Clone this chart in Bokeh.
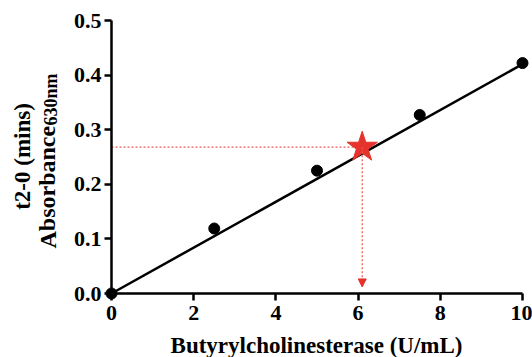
from bokeh.plotting import figure
from bokeh.models import Range1d, FixedTicker, NumeralTickFormatter, Label, Arrow, NormalHead
from bokeh.embed import file_html
from bokeh.resources import INLINE

# Standard curve: BChE activity vs absorbance at 630 nm
activity = [0, 2.5, 5, 7.5, 10]
absorbance = [0.0, 0.119, 0.225, 0.327, 0.422]

# calibration line
fit_x = [0, 10]
fit_y = [0.0, 0.420]

# unknown sample
sample_x = [6.1]
sample_y = [0.268]

x_ticks = [0, 2, 4, 6, 8, 10]
y_ticks = [0.0, 0.1, 0.2, 0.3, 0.4, 0.5]

FONT = "Liberation Serif"
RED = "#e5322a"
DASH_RED = "#f05a5a"

W, H = 532, 357
# canvas geometry: where the data origin sits and the pixel scale of each axis
X0_PX, Y0_PX = 111, 293
PX_PER_X, PX_PER_Y = 41.1, 546.0

x_range = Range1d(-X0_PX / PX_PER_X, (W - X0_PX) / PX_PER_X)
y_range = Range1d(-(H - Y0_PX) / PX_PER_Y, Y0_PX / PX_PER_Y)


def dx(px):
    return (px - X0_PX) / PX_PER_X


def dy(px):
    return (Y0_PX - px) / PX_PER_Y


p = figure(width=W, height=H, output_backend="svg", toolbar_location=None,
           x_range=x_range, y_range=y_range,
           min_border_left=0, min_border_right=0, min_border_top=0, min_border_bottom=0)
p.background_fill_color = "white"
p.border_fill_color = "white"
p.outline_line_color = None
p.grid.visible = False

for ax in (p.xaxis[0], p.yaxis[0]):
    ax.fixed_location = 0
    ax.axis_line_width = 2.5
    ax.axis_line_color = "black"
    ax.major_tick_line_width = 2.5
    ax.major_tick_line_color = "black"
    ax.major_tick_in = 0
    ax.major_tick_out = 7
    ax.minor_tick_line_color = None
    ax.major_label_text_font = FONT
    ax.major_label_text_font_style = "bold"
    ax.major_label_text_font_size = "22px"
    ax.major_label_text_color = "black"

p.xaxis.bounds = (0, 10)
p.yaxis.bounds = (0, 0.5)
p.xaxis.ticker = FixedTicker(ticks=x_ticks)
p.yaxis.ticker = FixedTicker(ticks=y_ticks)
p.yaxis.formatter = NumeralTickFormatter(format="0.0")
p.xaxis.major_label_standoff = 5
p.yaxis.major_label_standoff = 3

# dotted guides from the sample point to both axes
p.line(x=[0, sample_x[0]], y=[sample_y[0], sample_y[0]], line_color=DASH_RED,
       line_width=1.3, line_dash="2 2")
p.add_layout(Arrow(end=NormalHead(size=8, fill_color=RED, line_color=RED, line_width=1),
                   x_start=sample_x[0], y_start=sample_y[0], x_end=sample_x[0], y_end=0.012,
                   line_color=DASH_RED, line_width=1.3, line_dash="2 2"))

p.line(x=fit_x, y=fit_y, line_color="black", line_width=2.5)
p.scatter(x=activity, y=absorbance, size=11, color="black")
p.scatter(x=sample_x, y=sample_y, marker="star", size=32, fill_color=RED, line_color=RED)

# axis titles
title_style = dict(text_font=FONT, text_font_style="bold", text_color="black")
p.add_layout(Label(x=dx(316), y=dy(345), text="Butyrylcholinesterase (U/mL)",
                   text_font_size="23px", text_align="center", text_baseline="alphabetic",
                   **title_style))
p.add_layout(Label(x=dx(22), y=dy(156), text="t2-0 (mins)", angle=1.5708,
                   text_font_size="23px", text_align="center", text_baseline="middle",
                   **title_style))
p.add_layout(Label(x=dx(47), y=dy(248), text="Absorbance", angle=1.5708,
                   text_font_size="24px", text_align="left", text_baseline="middle",
                   **title_style))
p.add_layout(Label(x=dx(50.5), y=dy(125), text="630nm", angle=1.5708,
                   text_font_size="18px", text_align="left", text_baseline="middle",
                   **title_style))

open("out.html", "w").write(file_html(p, INLINE))
